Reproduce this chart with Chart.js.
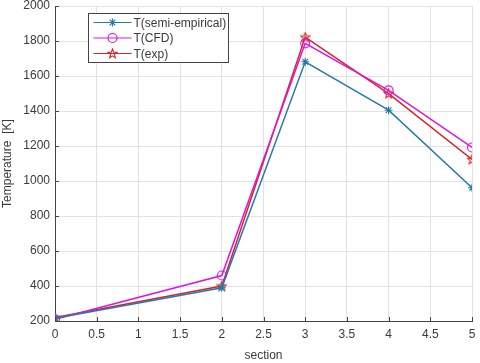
<!DOCTYPE html>
<html>
<head>
<meta charset="utf-8">
<script src="https://cdn.jsdelivr.net/npm/chart.js@4"></script>
<style>
  html, body { margin: 0; padding: 0; background: #fff; }
  #wrap { width: 480px; height: 363px; }
</style>
</head>
<body>
<div id="wrap"><canvas id="chart"></canvas></div>
<script>
// data
const sections = [0, 2, 3, 4, 5];
const tSemi = [215, 390, 1682, 1405, 962];
const tCFD = [210, 460, 1787, 1518, 1192];
const tExp = [220, 400, 1823, 1500, 1123];

const BLUE = "rgb(38,122,170)";
const MAGENTA = "rgb(222,20,222)";
const RED = "rgb(212,38,38)";
const TXT = "#3a3a3a";
const FONT = "'Liberation Sans', Arial, sans-serif";

// pentagram marker for T(exp)
const starMarker = (() => {
  const c = document.createElement("canvas");
  c.width = 11; c.height = 11;
  const g = c.getContext("2d");
  g.strokeStyle = RED; g.lineWidth = 1.1;
  g.beginPath();
  for (let i = 0; i < 10; i++) {
    const r = i % 2 === 0 ? 4.8 : 2.0;
    const a = -Math.PI / 2 + i * Math.PI / 5;
    const px = 5.5 + r * Math.cos(a), py = 5.8 + r * Math.sin(a);
    i === 0 ? g.moveTo(px, py) : g.lineTo(px, py);
  }
  g.closePath();
  g.stroke();
  return c;
})();

const toPts = (vals) => vals.map((v, i) => ({ x: sections[i], y: v }));

// inward tick marks + boxed legend, matlab style
const extras = {
  id: "extras",
  afterDraw(chart) {
    const ctx = chart.ctx, a = chart.chartArea;
    const xs = chart.scales.x, ys = chart.scales.y;
    ctx.save();
    ctx.strokeStyle = "#444"; ctx.lineWidth = 1;
    xs.ticks.forEach(t => {
      const px = Math.round(xs.getPixelForValue(t.value)) + 0.5;
      ctx.beginPath(); ctx.moveTo(px, a.bottom); ctx.lineTo(px, a.bottom - 4); ctx.stroke();
    });
    ys.ticks.forEach(t => {
      const py = Math.round(ys.getPixelForValue(t.value)) + 0.5;
      ctx.beginPath(); ctx.moveTo(a.left, py); ctx.lineTo(a.left + 4, py); ctx.stroke();
    });

    // legend
    const bx = 88.5, by = 13.5, bw = 140, bh = 49;
    ctx.fillStyle = "#fff";
    ctx.fillRect(bx, by, bw, bh);
    ctx.strokeStyle = "#444";
    ctx.strokeRect(bx, by, bw, bh);
    ctx.font = "12px " + FONT;
    ctx.textBaseline = "middle";
    chart.data.datasets.forEach((ds, i) => {
      const ly = by + 9 + i * 15.5;
      ctx.strokeStyle = ds.borderColor; ctx.lineWidth = 1.2;
      ctx.beginPath(); ctx.moveTo(bx + 5, ly); ctx.lineTo(bx + 43, ly); ctx.stroke();
      ctx.fillStyle = "rgba(0,0,0,0)";
      Chart.helpers.drawPoint(ctx, {
        pointStyle: ds.pointStyle, radius: ds.pointRadius, borderWidth: ds.pointBorderWidth,
        rotation: 0
      }, bx + 24, ly);
      ctx.fillStyle = TXT;
      ctx.fillText(ds.label, bx + 45, ly + 1);
    });
    ctx.restore();
  },
};

const mk = (label, vals, color, style, radius) => ({
  label,
  data: toPts(vals),
  borderColor: color,
  backgroundColor: "rgba(0,0,0,0)",
  pointBorderColor: color,
  pointBackgroundColor: "rgba(0,0,0,0)",
  pointStyle: style,
  pointRadius: radius,
  pointHoverRadius: radius,
  pointBorderWidth: 1.1,
  borderWidth: 1.5,
  tension: 0,
});

const chart = new Chart("chart", {
  type: "line",
  data: {
    datasets: [
      mk("T(semi-empirical)", tSemi, BLUE, "star", 4),
      mk("T(CFD)", tCFD, MAGENTA, "circle", 4.5),
      mk("T(exp)", tExp, RED, starMarker, 5),
    ],
  },
  plugins: [extras],
  options: {
    animation: false,
    responsive: true,
    maintainAspectRatio: false,
    layout: { padding: { top: 6, right: 8, left: 0, bottom: 0 } },
    plugins: { legend: { display: false }, tooltip: { enabled: false } },
    scales: {
      x: {
        type: "linear", min: 0, max: 5,
        ticks: { stepSize: 0.5, color: TXT, font: { size: 12, family: FONT }, padding: 6, maxRotation: 0,
          callback: (v) => String(v) },
        grid: { color: "#e2e2e2", drawTicks: false },
        border: { color: "#444", width: 1 },
        title: { display: true, text: "section", color: TXT, font: { size: 12, family: FONT }, padding: { top: 1, bottom: 0 } },
        afterFit: (s) => { s.height = 42; s.paddingRight = 0; },
      },
      y: {
        min: 200, max: 2000,
        ticks: { stepSize: 200, color: TXT, font: { size: 12, family: FONT }, padding: 5,
          callback: (v) => String(v) },
        grid: { color: "#e2e2e2", drawTicks: false },
        border: { color: "#444", width: 1 },
        title: { display: true, text: "Temperature  [K]", color: TXT, font: { size: 12, family: FONT }, padding: { top: 0, bottom: 2 } },
        afterFit: (s) => { s.width = 55; s.paddingTop = 0; s.paddingBottom = 0; },
      },
    },
  },
});
</script>
</body>
</html>
